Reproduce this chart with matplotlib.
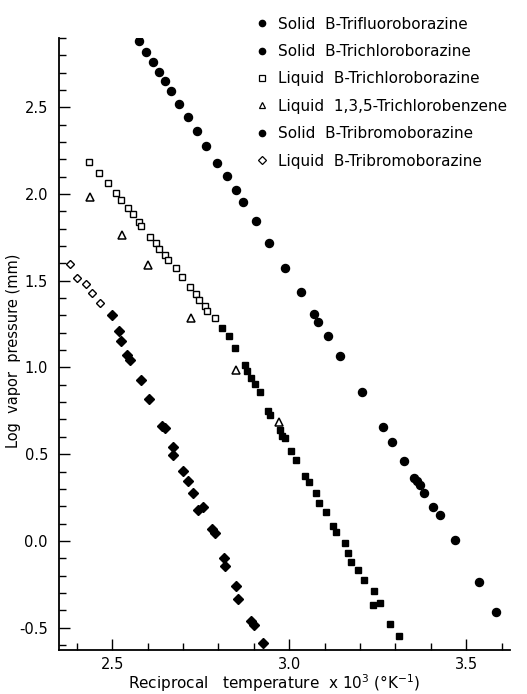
import numpy as np
import matplotlib
matplotlib.use('Agg')
from matplotlib import pyplot as plt
from matplotlib.lines import Line2D
from matplotlib.ticker import MultipleLocator, FormatStrFormatter

plt.rcParams['font.family'] = ['DejaVu Sans']

# ---------------------------------------------------------------------------
# data: reciprocal temperature x 10^3 (1/K) vs log vapour pressure (mm)
# ---------------------------------------------------------------------------
trifluoro_x = [2.576, 2.596, 2.616, 2.633, 2.650, 2.667, 2.689, 2.715, 2.740, 2.766,
               2.797, 2.825, 2.850, 2.870, 2.907, 2.944, 2.989, 3.034, 3.071, 3.082,
               3.110, 3.144, 3.206, 3.266, 3.291, 3.325, 3.353, 3.362, 3.370, 3.381,
               3.407, 3.427, 3.469, 3.537, 3.585]
trifluoro_y = [2.884, 2.820, 2.762, 2.705, 2.653, 2.595, 2.520, 2.445, 2.365, 2.278,
               2.180, 2.105, 2.024, 1.955, 1.846, 1.719, 1.575, 1.436, 1.310, 1.263,
               1.183, 1.067, 0.859, 0.658, 0.571, 0.461, 0.363, 0.346, 0.323, 0.277,
               0.196, 0.150, 0.006, -0.236, -0.409]

liq_cl_x = [2.435, 2.463, 2.489, 2.511, 2.525, 2.545, 2.559, 2.576, 2.582, 2.607, 2.624,
            2.633, 2.650, 2.658, 2.681, 2.698, 2.720, 2.737, 2.746, 2.763, 2.768, 2.791]
liq_cl_y = [2.186, 2.122, 2.065, 2.007, 1.967, 1.921, 1.886, 1.840, 1.817, 1.754, 1.719,
            1.684, 1.650, 1.621, 1.575, 1.523, 1.465, 1.425, 1.390, 1.355, 1.326, 1.286]

sol_cl_x = [2.811, 2.831, 2.847, 2.876, 2.881, 2.893, 2.904, 2.918, 2.941, 2.946, 2.975,
            2.980, 2.989, 3.006, 3.020, 3.045, 3.056, 3.076, 3.085, 3.105, 3.124, 3.133,
            3.158, 3.167, 3.175, 3.195, 3.212, 3.240, 3.257, 3.237, 3.285, 3.311]
sol_cl_y = [1.228, 1.182, 1.113, 1.015, 0.980, 0.940, 0.905, 0.859, 0.750, 0.727, 0.640,
            0.606, 0.594, 0.519, 0.467, 0.375, 0.340, 0.277, 0.219, 0.167, 0.087, 0.052,
            -0.012, -0.069, -0.121, -0.167, -0.225, -0.288, -0.357, -0.369, -0.479, -0.548]

benzene_x = [2.438, 2.528, 2.602, 2.723, 2.850, 2.972]
benzene_y = [1.984, 1.765, 1.592, 1.286, 0.986, 0.686]

sol_br_x = [2.500, 2.520, 2.525, 2.542, 2.551, 2.582, 2.605, 2.641, 2.650, 2.672, 2.672,
            2.701, 2.715, 2.729, 2.743, 2.757, 2.782, 2.791, 2.816, 2.819, 2.850, 2.856,
            2.893, 2.901, 2.927]
sol_br_y = [1.303, 1.211, 1.153, 1.072, 1.043, 0.928, 0.819, 0.663, 0.652, 0.542, 0.496,
            0.404, 0.346, 0.277, 0.179, 0.196, 0.069, 0.046, -0.098, -0.144, -0.260, -0.335,
            -0.462, -0.485, -0.588]

liq_br_x = [2.381, 2.401, 2.427, 2.444, 2.466]
liq_br_y = [1.597, 1.517, 1.482, 1.430, 1.373]

labels = ['Solid  B-Trifluoroborazine',
          'Solid  B-Trichloroborazine',
          'Liquid  B-Trichloroborazine',
          'Liquid  1,3,5-Trichlorobenzene',
          'Solid  B-Tribromoborazine',
          'Liquid  B-Tribromoborazine']

# ---------------------------------------------------------------------------
# plot
# ---------------------------------------------------------------------------
fig = plt.figure(figsize=(5.27, 6.94), dpi=100)
ax = fig.add_axes([0.112, 0.0634, 0.856, 0.882])

ax.plot(trifluoro_x, trifluoro_y, 'o', color='k', ms=5.8, mec='k')
ax.plot(sol_cl_x, sol_cl_y, 's', color='k', ms=5.0, mec='k')
ax.plot(liq_cl_x, liq_cl_y, 's', mfc='white', mec='k', mew=1.0, ms=4.6)
ax.plot(benzene_x, benzene_y, '^', mfc='white', mec='k', mew=1.1, ms=5.6)
ax.plot(sol_br_x, sol_br_y, 'D', color='k', ms=4.6, mec='k')
ax.plot(liq_br_x, liq_br_y, 'D', mfc='white', mec='k', mew=1.0, ms=4.4)

ax.set_xlim(2.350, 3.624)
ax.set_ylim(-0.629, 2.90)

for side in ['top', 'right']:
    ax.spines[side].set_visible(False)
for side in ['left', 'bottom']:
    ax.spines[side].set_linewidth(1.3)

ax.xaxis.set_major_locator(MultipleLocator(0.5))
ax.xaxis.set_minor_locator(MultipleLocator(0.1))
ax.yaxis.set_major_locator(MultipleLocator(0.5))
ax.yaxis.set_minor_locator(MultipleLocator(0.1))
ax.xaxis.set_major_formatter(FormatStrFormatter('%.1f'))
ax.yaxis.set_major_formatter(FormatStrFormatter('%.1f'))
ax.tick_params(which='both', direction='in', width=1.0, labelsize=10.5)
ax.tick_params(which='major', length=8)
ax.tick_params(which='minor', length=5)
ax.tick_params(axis='x', pad=5)
ax.tick_params(axis='y', pad=8)

ax.set_xlabel('Reciprocal   temperature  x 10$^3$ (°K$^{-1}$)', fontsize=11)
ax.xaxis.set_label_coords(0.477, -0.036)
fig.text(0.026, 0.495, 'Log  vapor  pressure (mm)', rotation=90, fontsize=10.5,
         ha='center', va='center')

handles = [
    Line2D([], [], ls='none', marker='o', color='k', ms=4.5),
    Line2D([], [], ls='none', marker='o', color='k', ms=4.5),
    Line2D([], [], ls='none', marker='s', mfc='white', mec='k', ms=3.8, mew=0.9),
    Line2D([], [], ls='none', marker='^', mfc='white', mec='k', ms=4.2, mew=0.9),
    Line2D([], [], ls='none', marker='o', color='k', ms=4.5),
    Line2D([], [], ls='none', marker='D', mfc='white', mec='k', ms=3.6, mew=0.9),
]
fig.legend(handles, labels, loc='upper left', bbox_to_anchor=(0.488, 0.976),
           frameon=False, fontsize=11, handlelength=0.6, handletextpad=0.75,
           labelspacing=0.81, borderpad=0, borderaxespad=0)

fig.savefig('out.png', dpi=100)
